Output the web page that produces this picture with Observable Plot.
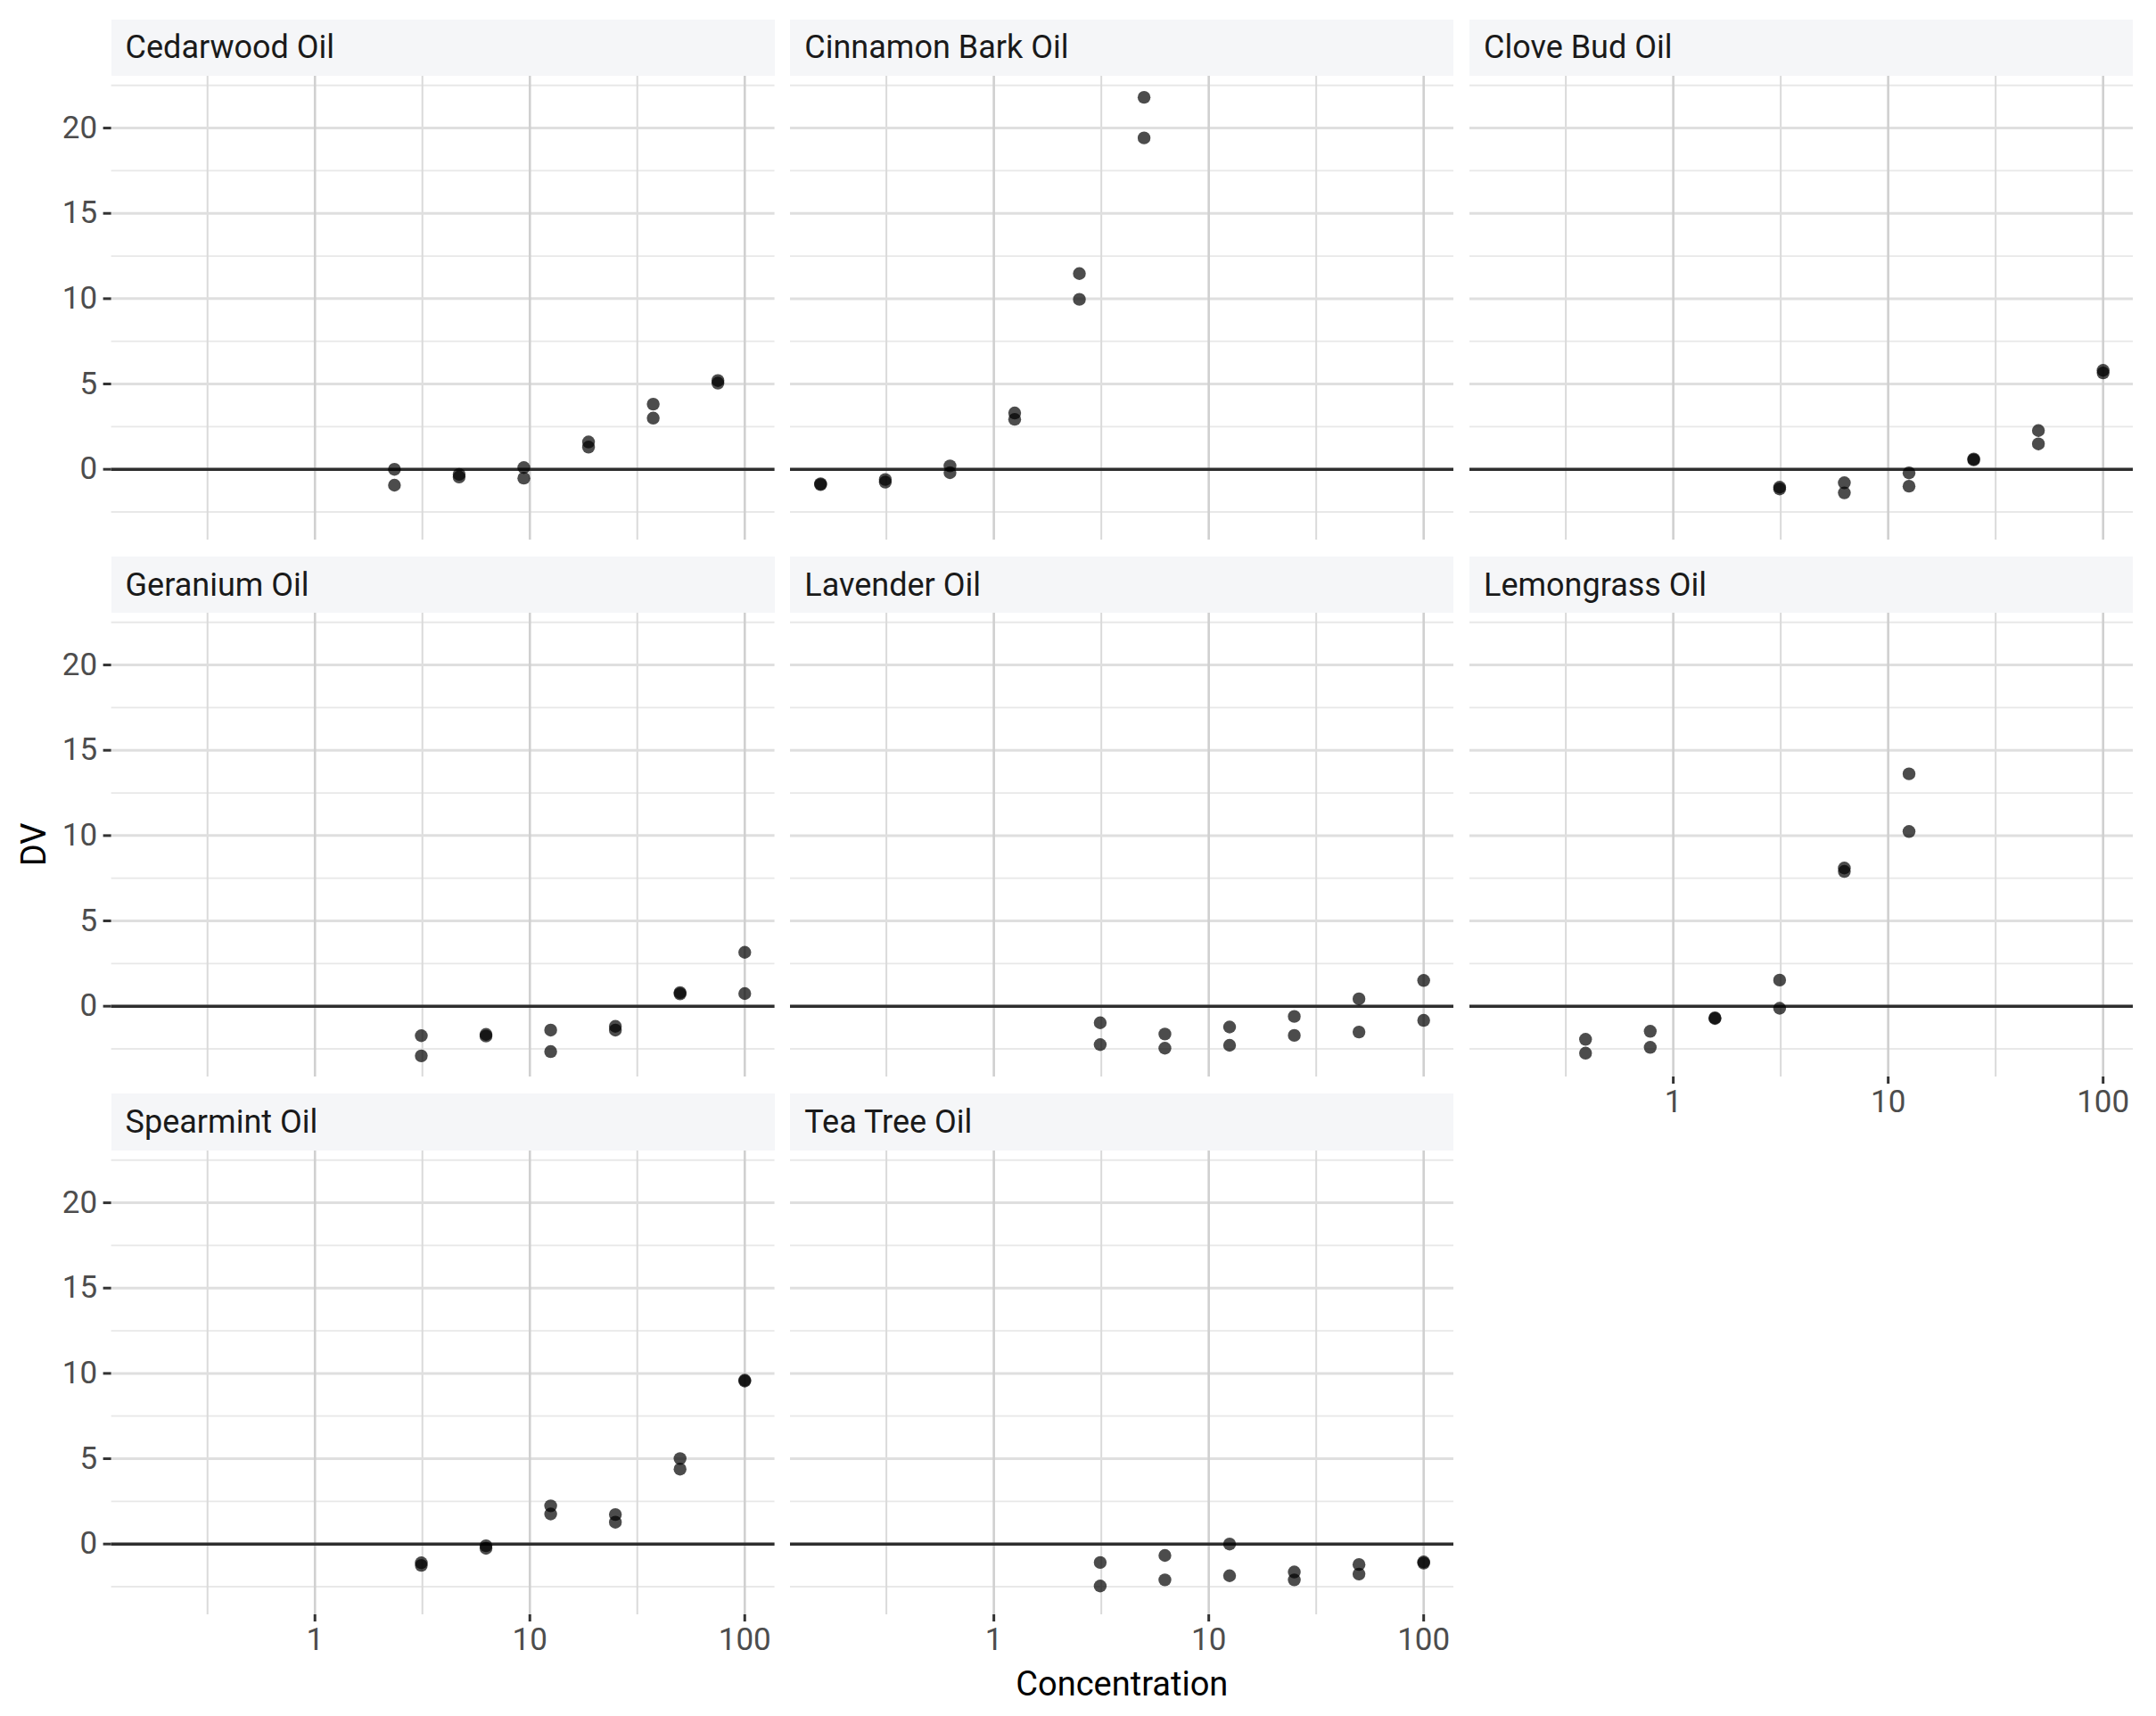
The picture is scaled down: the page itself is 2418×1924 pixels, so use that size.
<!DOCTYPE html>
<html>
<head>
<meta charset="utf-8">
<script src="https://cdn.jsdelivr.net/npm/d3@7"></script>
<script src="https://cdn.jsdelivr.net/npm/@observablehq/plot@0.6"></script>
<style>
  html, body { margin: 0; padding: 0; background: #ffffff; }
  #chart { position: relative; width: 2418px; height: 1924px; overflow: hidden;
           font-family: Roboto, "Noto Sans", "DejaVu Sans", sans-serif; }
  .strip { position: absolute; background: #f5f6f8; color: #1a1a1a; font-size: 36px;
           display: flex; align-items: center; box-sizing: border-box; padding-left: 16px;
           white-space: nowrap; }
  .panel { position: absolute; }
  .title { position: absolute; color: #000000; font-size: 38px; white-space: nowrap; }
</style>
</head>
<body>
<div id="chart"></div>
<script>
// Facet order (facet_wrap, three columns)
const oilNames = [
  "Cedarwood Oil", "Cinnamon Bark Oil", "Clove Bud Oil",
  "Geranium Oil", "Lavender Oil", "Lemongrass Oil",
  "Spearmint Oil", "Tea Tree Oil"
];

// Dilution series (concentration) used for each oil
const cedarwoodConc  = [2.34375, 4.6875, 9.375, 18.75, 37.5, 75];
const cinnamonConc   = [0.15625, 0.3125, 0.625, 1.25, 2.5, 5];
const lemongrassConc = [0.390625, 0.78125, 1.5625, 3.125, 6.25, 12.5];
const standardConc   = [3.125, 6.25, 12.5, 25, 50, 100];

// DV of the two replicates at each concentration step
const cedarwoodDV  = [[0.00, -0.93], [-0.30, -0.45], [0.10, -0.52], [1.60, 1.30], [3.82, 3.00], [5.20, 5.05]];
const cinnamonDV   = [[-0.85, -0.90], [-0.60, -0.75], [0.20, -0.20], [3.30, 2.93], [11.47, 9.96], [21.80, 19.42]];
const cloveDV      = [[-1.05, -1.15], [-0.79, -1.38], [-0.21, -0.99], [0.60, 0.55], [2.27, 1.49], [5.80, 5.65]];
const geraniumDV   = [[-1.73, -2.91], [-1.65, -1.75], [-1.40, -2.66], [-1.18, -1.40], [0.80, 0.72], [3.16, 0.74]];
const lavenderDV   = [[-0.97, -2.25], [-1.63, -2.46], [-1.22, -2.29], [-0.60, -1.71], [0.43, -1.51], [1.51, -0.83]];
const lemongrassDV = [[-1.94, -2.75], [-1.47, -2.41], [-0.68, -0.72], [1.53, -0.12], [8.10, 7.90], [13.62, 10.24]];
const spearmintDV  = [[-1.10, -1.25], [-0.10, -0.25], [2.24, 1.76], [1.73, 1.28], [5.01, 4.39], [9.60, 9.55]];
const teaTreeDV    = [[-1.08, -2.46], [-0.67, -2.10], [0.00, -1.86], [-1.64, -2.10], [-1.20, -1.76], [-1.05, -1.12]];

const concByOil = [cedarwoodConc, cinnamonConc, standardConc, standardConc, standardConc, lemongrassConc, standardConc, standardConc];
const dvByOil   = [cedarwoodDV, cinnamonDV, cloveDV, geraniumDV, lavenderDV, lemongrassDV, spearmintDV, teaTreeDV];

// Axis breaks
const yTicks      = [0, 5, 10, 15, 20];
const yMinorTicks = [-2.5, 2.5, 7.5, 12.5, 17.5, 22.5];
const xTicks      = [1, 10, 100];
const xMinorTicks = [Math.pow(10, -0.5), Math.pow(10, 0.5), Math.pow(10, 1.5)];

// Long table: one row per measurement
const rows = [];
oilNames.forEach((oil, i) => {
  concByOil[i].forEach((conc, j) => {
    dvByOil[i][j].forEach(dv => rows.push({oil, conc, dv}));
  });
});

// Shared scales with 5% expansion (log space for x)
const lx = d3.extent(rows, d => Math.log10(d.conc));
const lxPad = (lx[1] - lx[0]) * 0.05;
const xDomain = [Math.pow(10, lx[0] - lxPad), Math.pow(10, lx[1] + lxPad)];
const ye = d3.extent(rows, d => d.dv);
const yPad = (ye[1] - ye[0]) * 0.05;
const yDomain = [ye[0] - yPad, ye[1] + yPad];

// Panel layout
const panelW = 744, panelH = 520, stripH = 63.3;
const colStep = 761.7, rowStep = 602.3;
const left0 = 124.6, top0 = 85;
const nCols = 3;

const chart = document.getElementById("chart");

oilNames.forEach((oil, i) => {
  const col = i % nCols, row = Math.floor(i / nCols);
  const px = left0 + col * colStep;
  const py = top0 + row * rowStep;
  const hasY = col === 0;
  const hasX = i + nCols >= oilNames.length;
  const mL = hasY ? left0 : 0;
  const mB = hasX ? 80 : 0;
  const data = rows.filter(d => d.oil === oil);

  const marks = [
    Plot.gridY(yMinorTicks, {stroke: "#e8e8e8", strokeWidth: 1.8, strokeOpacity: 1}),
    Plot.gridX(xMinorTicks, {stroke: "#dadada", strokeWidth: 2, strokeOpacity: 1}),
    Plot.gridY(yTicks, {stroke: "#dfdfdf", strokeWidth: 3, strokeOpacity: 1}),
    Plot.gridX(xTicks, {stroke: "#d0d0d0", strokeWidth: 2.6, strokeOpacity: 1}),
    Plot.ruleY([0], {stroke: "#2e2e2e", strokeWidth: 3.6}),
    Plot.dot(data, {x: "conc", y: "dv", r: 7.2, fill: "#000000", fillOpacity: 0.7, stroke: "none"})
  ];
  if (hasY) {
    marks.push(Plot.axisY(yTicks, {
      anchor: "left", tickSize: 9, tickPadding: 7, stroke: "#333333", strokeWidth: 3,
      label: null, fontSize: 35, tickFormat: d => String(d)
    }));
  }
  if (hasX) {
    marks.push(Plot.axisX(xTicks, {
      anchor: "bottom", tickSize: 8, tickPadding: 7, stroke: "#333333", strokeWidth: 3,
      label: null, fontSize: 35, tickFormat: d => String(d)
    }));
  }

  const svg = Plot.plot({
    width: panelW + mL,
    height: panelH + mB,
    marginLeft: mL, marginRight: 0, marginTop: 0, marginBottom: mB,
    x: Object.assign({type: "log", domain: xDomain}, hasX ? {} : {axis: null}),
    y: Object.assign({domain: yDomain}, hasY ? {} : {axis: null}),
    style: {fontFamily: "Roboto, 'Noto Sans', sans-serif", fontSize: "35px", color: "#4d4d4d", background: "none", overflow: "visible"},
    marks
  });
  svg.classList.add("panel");
  svg.style.left = (px - mL) + "px";
  svg.style.top = py + "px";
  chart.appendChild(svg);

  const strip = document.createElement("div");
  strip.className = "strip";
  strip.textContent = oil;
  strip.style.left = px + "px";
  strip.style.top = (py - stripH) + "px";
  strip.style.width = panelW + "px";
  strip.style.height = stripH + "px";
  chart.appendChild(strip);
});

// Shared axis titles
const plotBottom = top0 + 2 * rowStep + panelH;
const xTitle = document.createElement("div");
xTitle.className = "title";
xTitle.textContent = "Concentration";
xTitle.style.left = ((left0 + left0 + 2 * colStep + panelW) / 2) + "px";
xTitle.style.top = (plotBottom + 78) + "px";
xTitle.style.transform = "translate(-50%, -50%)";
chart.appendChild(xTitle);

const yTitle = document.createElement("div");
yTitle.className = "title";
yTitle.textContent = "DV";
yTitle.style.left = "38px";
yTitle.style.top = ((top0 + plotBottom) / 2) + "px";
yTitle.style.transform = "translate(-50%, -50%) rotate(-90deg)";
chart.appendChild(yTitle);
</script>
</body>
</html>
